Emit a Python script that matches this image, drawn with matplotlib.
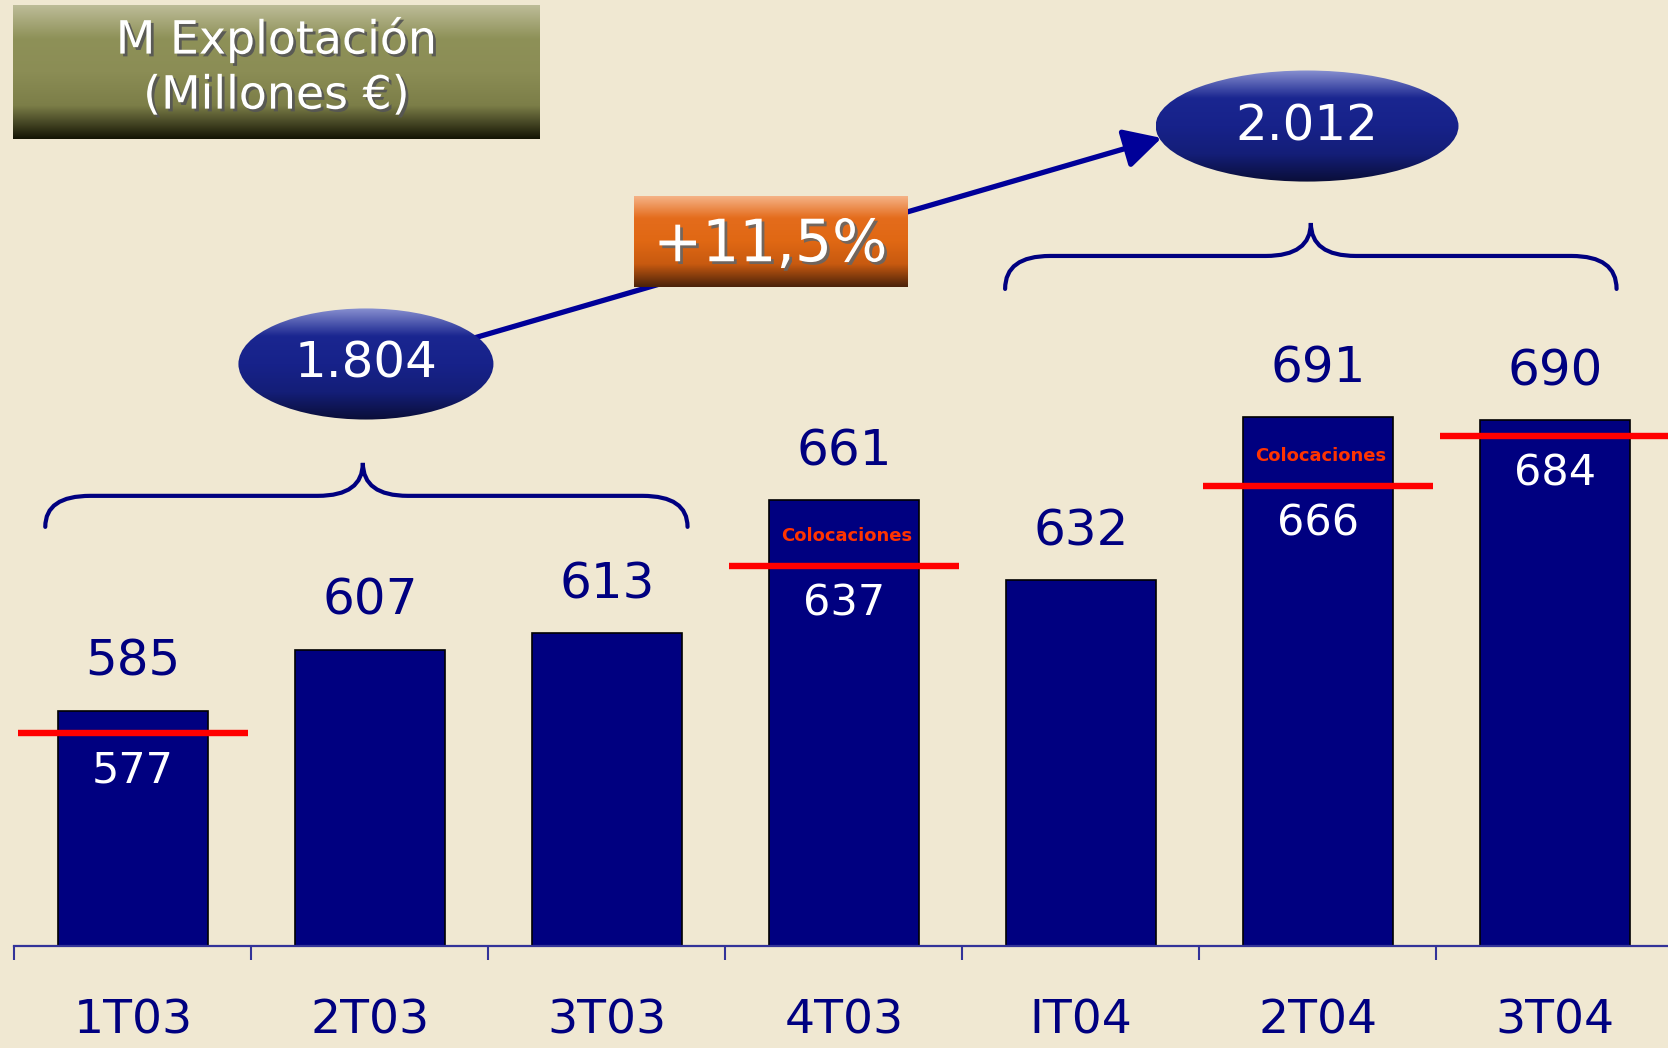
"""M Explotación por trimestre, barras con línea de Colocaciones."""

import matplotlib
matplotlib.use("Agg")
import matplotlib.pyplot as plt
import matplotlib.patheffects as pe
import numpy as np
from matplotlib.colors import LinearSegmentedColormap
from matplotlib.patches import Ellipse, FancyArrowPatch, PathPatch, Rectangle
from matplotlib.path import Path

# --- data -------------------------------------------------------------
quarters = ["1T03", "2T03", "3T03", "4T03", "IT04", "2T04", "3T04"]
margin = [585, 607, 613, 661, 632, 691, 690]

coloc_idx = [0, 3, 5, 6]
coloc_val = [577, 637, 666, 684]
coloc_named = [False, True, True, False]

groups = [[0, 1, 2], [4, 5, 6]]
group_total = ["1.804", "2.012"]
growth = "+11,5%"
title_lines = ["M Explotación", "(Millones €)"]

BG = "#F0E8D2"
NAVY = "#000080"
AXIS = "#333399"
YMIN, YMAX = 500, 841.5


def gradient_fill(ax, patch, colors, extent, zorder):
    """Fill a patch with a vertical gradient (top -> bottom)."""
    patch.set_facecolor("none")
    patch.set_edgecolor("none")
    patch.set_zorder(zorder)
    ax.add_patch(patch)
    cmap = LinearSegmentedColormap.from_list("g", colors)
    grad = np.linspace(0, 1, 256).reshape(-1, 1)
    im = ax.imshow(grad, cmap=cmap, extent=extent, aspect="auto",
                   origin="upper", zorder=zorder, interpolation="bicubic")
    im.set_clip_path(patch)


def brace(ax, x0, x1, xm, y_end, y_line, y_tip, rx):
    verts = [(x0, y_end), (x0, y_line), (x0 + rx, y_line),
             (xm - rx, y_line),
             (xm, y_line), (xm, y_tip),
             (xm, y_line), (xm + rx, y_line),
             (x1 - rx, y_line),
             (x1, y_line), (x1, y_end)]
    codes = [Path.MOVETO, Path.CURVE3, Path.CURVE3, Path.LINETO,
             Path.CURVE3, Path.CURVE3, Path.CURVE3, Path.CURVE3,
             Path.LINETO, Path.CURVE3, Path.CURVE3]
    ax.add_patch(PathPatch(Path(verts, codes), facecolor="none",
                           edgecolor=NAVY, lw=3.0, zorder=3,
                           capstyle="round"))


fig = plt.figure(figsize=(16.68, 10.48), dpi=100, facecolor=BG)
ax = fig.add_axes([0, 102 / 1048, 1, 946 / 1048])
ax.set_facecolor("none")

x = np.arange(len(quarters))
ax.bar(x, margin, width=0.63, color=NAVY, edgecolor="black", lw=1.2, zorder=2)

for s in ["top", "left", "right"]:
    ax.spines[s].set_visible(False)
ax.spines["bottom"].set_color(AXIS)
ax.spines["bottom"].set_linewidth(1.6)
ax.spines["bottom"].set_bounds(-0.5, 6.477)
ax.spines["bottom"].set_zorder(4)
ax.set_yticks([])
ax.set_xticks(np.arange(-0.5, len(quarters) - 1, 1.0))
ax.tick_params(axis="x", direction="out", length=10, width=1.5,
               color=AXIS, labelbottom=False)

for i, q in enumerate(quarters):
    ax.annotate(q, xy=(i, YMIN), xytext=(0, -54), textcoords="offset points",
                ha="center", va="center", fontsize=34, color=NAVY,
                annotation_clip=False)

for i, v in enumerate(margin):
    ax.annotate(str(v), xy=(i, v), xytext=(0, 35), textcoords="offset points",
                ha="center", va="center", fontsize=36, color=NAVY)

for i, v, named in zip(coloc_idx, coloc_val, coloc_named):
    ax.hlines(v, i - 0.487, i + 0.487, color="#FF0000", lw=4.6, zorder=3)
    ax.annotate(str(v), xy=(i, v), xytext=(0, -27), textcoords="offset points",
                ha="center", va="center", fontsize=31, color="white", zorder=4)
    if named:
        ax.annotate("Colocaciones", xy=(i, v), xytext=(2, 22),
                    textcoords="offset points", ha="center", va="center",
                    fontsize=13, fontweight="bold", color="#FF3300", zorder=4)

# braces over each group of quarters
brace_pad = [(0.37, 0.34), (0.32, 0.26)]
brace_y = [(651.3, 662.5, 674.4), (737.2, 749.1, 761.0)]
for g, (pl, pr), (ye, yl, yt) in zip(groups, brace_pad, brace_y):
    brace(ax, g[0] - pl, g[-1] + pr, g[1] - 0.03, ye, yl, yt, 0.19)

# arrow between the two totals
ax.add_patch(FancyArrowPatch((1.44, 719.5), (4.34, 791.7),
                             arrowstyle="-|>,head_length=1.5,head_width=0.8",
                             mutation_scale=15, lw=3.8, color="#000099",
                             shrinkA=0, shrinkB=0, zorder=4))

# total ellipses
ell_pos = [(0.983, 710.1, 1.076), (4.954, 796.0, 1.278)]
ell_colors = ["#8890D0", "#1A2690", "#17228A", "#141E78", "#0A0E38"]
for (cx, cy, w), txt in zip(ell_pos, group_total):
    h = 40.1
    gradient_fill(ax, Ellipse((cx, cy), w, h), ell_colors,
                  (cx - w / 2, cx + w / 2, cy - h / 2, cy + h / 2), 5)
    ax.text(cx, cy, txt, ha="center", va="center", fontsize=36,
            color="white", zorder=6)

# growth box
bx0, bx1, by0, by1 = 2.114, 3.266, 737.9, 770.8
gradient_fill(ax, Rectangle((bx0, by0), bx1 - bx0, by1 - by0),
              ["#F6B68C", "#E46C1C", "#E06814", "#C85A10", "#4A220A"],
              (bx0, bx1, by0, by1), 5)
ax.text((bx0 + bx1) / 2, (by0 + by1) / 2 - 1.2, growth, ha="center",
        va="center", fontsize=42, color="white", zorder=6,
        path_effects=[pe.withSimplePatchShadow(offset=(2, -2),
                                               shadow_rgbFace="#666666",
                                               alpha=0.9)])

ax.set_xlim(-0.561, 6.477)
ax.set_ylim(YMIN, YMAX)

# title box
tax = fig.add_axes([13 / 1668, 1 - 139 / 1048, 527 / 1668, 134 / 1048])
tcmap = LinearSegmentedColormap.from_list(
    "t", ["#BDBC98", "#8E9158", "#8B8D55", "#7C7E48", "#141404"])
tax.imshow(np.linspace(0, 1, 256).reshape(-1, 1), cmap=tcmap, aspect="auto",
           extent=(0, 1, 0, 1), interpolation="bicubic")
tax.set_xlim(0, 1)
tax.set_ylim(0, 1)
tax.axis("off")
for yy, line in zip([0.74, 0.32], title_lines):
    tax.text(0.5, yy, line, ha="center", va="center", fontsize=33,
             color="white",
             path_effects=[pe.withSimplePatchShadow(offset=(2, -2),
                                                    shadow_rgbFace="#555555",
                                                    alpha=0.9)])

fig.savefig("out.png", dpi=100, facecolor=BG)
plt.close(fig)
